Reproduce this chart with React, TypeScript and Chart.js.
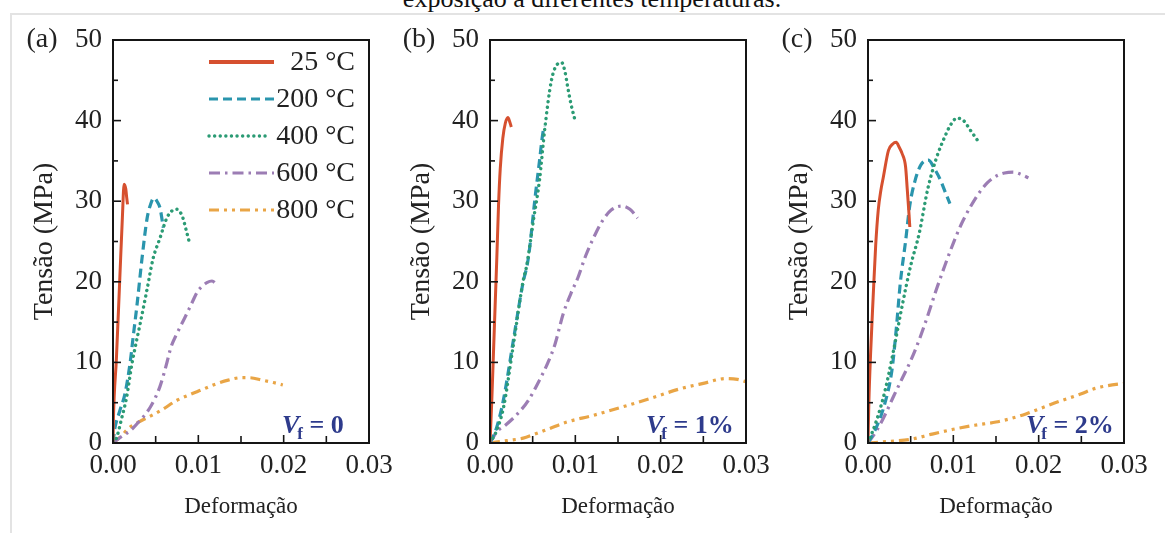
import React, { useEffect, useRef } from "react";
import { Chart, registerables } from "chart.js";

Chart.register(...registerables);

const FONT = "'Liberation Serif', 'Times New Roman', Times, serif";

// Series shared by all three panels
const SERIES_LABELS = ["25 °C", "200 °C", "400 °C", "600 °C", "800 °C"];
const SERIES_COLORS = ["#d6502f", "#2a95ad", "#2b9b74", "#9c7db4", "#e9a546"];

// Axis ticks
const X_TICKS = [0, 0.01, 0.02, 0.03];
const Y_TICKS = [0, 10, 20, 30, 40, 50];
const PANEL_TAGS = ["(a)", "(b)", "(c)"];
const FIBER_CONTENT = ["0", "1%", "2%"];

type Pt = [number, number];

// Panel (a): Vf = 0   [strain, stress MPa]
const a25: Pt[] = [[0, 0], [0.00005, 3], [0.0004, 10.5], [0.0008, 20.5], [0.0011, 28], [0.0013, 32.1], [0.0015, 31.5], [0.0016, 30.5], [0.0017, 29.6]];
const a200: Pt[] = [[0, 0], [0.0002, 1.7], [0.0008, 4], [0.0014, 6.1], [0.002, 9.9], [0.0024, 13.5], [0.0028, 17], [0.0034, 22.9], [0.004, 27.9], [0.0044, 29.6], [0.0048, 30.4], [0.0052, 29.9], [0.0055, 29.2], [0.0059, 26.7]];
const a400: Pt[] = [[0, 0], [0.0004, 0.6], [0.001, 3], [0.0016, 5.7], [0.0022, 9.7], [0.0032, 14.9], [0.004, 19.1], [0.0047, 22.9], [0.0055, 25.4], [0.0063, 27.9], [0.0069, 28.8], [0.0075, 29], [0.0079, 28.6], [0.0082, 27.9], [0.0086, 26.3], [0.009, 24.7]];
const a600: Pt[] = [[0, 0], [0.001, 0.8], [0.0021, 1.6], [0.003, 2.6], [0.0044, 4.5], [0.0055, 7], [0.0062, 9.5], [0.0068, 11.9], [0.0075, 13.6], [0.0084, 15.5], [0.0093, 17.5], [0.0099, 18.8], [0.0104, 19.4], [0.011, 19.9], [0.0116, 20.1], [0.0122, 19.6]];
const a800: Pt[] = [[0, 0], [0.001, 0.9], [0.0018, 1.8], [0.003, 2.6], [0.0045, 3.4], [0.0057, 4.1], [0.0075, 5.3], [0.009, 6], [0.0104, 6.6], [0.012, 7.3], [0.0135, 7.8], [0.015, 8.1], [0.016, 8.1], [0.0175, 7.8], [0.0188, 7.5], [0.0199, 7.2]];

// Panel (b): Vf = 1%
const b25: Pt[] = [[0, 0], [0.0002, 5], [0.0004, 11], [0.0006, 17], [0.0008, 23], [0.001, 29.5], [0.0012, 34], [0.0015, 37.8], [0.0018, 39.7], [0.0021, 40.4], [0.0023, 39.9], [0.0025, 39.2]];
const b200: Pt[] = [[0, 0], [0.0008, 2], [0.0016, 5.5], [0.0027, 12.5], [0.0038, 19.5], [0.0045, 23], [0.0053, 30.6], [0.0058, 35], [0.0062, 38.5], [0.0064, 39.3]];
const b400: Pt[] = [[0, 0], [0.0008, 1.6], [0.0016, 4.5], [0.0027, 11.9], [0.0039, 20.2], [0.0043, 22], [0.0051, 27.7], [0.0058, 32.6], [0.0064, 38.8], [0.0072, 45], [0.0079, 47], [0.0084, 47.2], [0.0088, 46], [0.0091, 44.2], [0.0095, 42], [0.0099, 40.3]];
const b600: Pt[] = [[0, 0], [0.0008, 1.4], [0.0018, 2.2], [0.0033, 3.7], [0.0045, 5.3], [0.0058, 7.8], [0.0068, 10], [0.0076, 12.2], [0.0086, 16.1], [0.0095, 18.6], [0.0103, 20.5], [0.0112, 23.2], [0.0122, 25.6], [0.0132, 27.6], [0.0142, 28.9], [0.0154, 29.4], [0.0164, 29], [0.0173, 27.9]];
const b800: Pt[] = [[0, 0], [0.002, 0.3], [0.0039, 0.6], [0.005, 1], [0.007, 1.8], [0.009, 2.6], [0.012, 3.4], [0.0156, 4.5], [0.019, 5.6], [0.0222, 6.7], [0.025, 7.4], [0.0277, 8], [0.029, 7.9], [0.03, 7.6]];

// Panel (c): Vf = 2%
const c25: Pt[] = [[0, 0], [0.0001, 5], [0.0003, 11], [0.0006, 18], [0.0009, 24.5], [0.0012, 28.9], [0.0015, 31.3], [0.0018, 33], [0.0024, 36.3], [0.0029, 37.1], [0.0033, 37.3], [0.0037, 36.6], [0.004, 35.9], [0.0044, 34.3], [0.0046, 31.5], [0.0048, 28.5], [0.0049, 26.8]];
const c200: Pt[] = [[0, 0], [0.001, 2], [0.002, 5], [0.0028, 9], [0.0033, 14], [0.0038, 20], [0.0044, 25], [0.0049, 29.5], [0.0055, 32.5], [0.0062, 34.5], [0.0071, 35.1], [0.0078, 34], [0.0085, 32.6], [0.0091, 31], [0.0096, 29.7]];
const c400: Pt[] = [[0, 0], [0.001, 2.8], [0.002, 6.5], [0.003, 11.5], [0.004, 17], [0.005, 22], [0.006, 26], [0.007, 31.5], [0.008, 35.3], [0.009, 38], [0.0097, 39.5], [0.0104, 40.3], [0.0112, 40], [0.012, 38.8], [0.0128, 37.6]];
const c600: Pt[] = [[0, 0], [0.001, 1.5], [0.002, 3.5], [0.003, 5.8], [0.004, 8], [0.005, 10.2], [0.006, 12.8], [0.007, 15.8], [0.008, 19], [0.009, 22], [0.01, 24.8], [0.011, 27.3], [0.012, 29.3], [0.013, 31], [0.014, 32.3], [0.015, 33.1], [0.016, 33.5], [0.017, 33.6], [0.018, 33.3], [0.0188, 32.9]];
const c800: Pt[] = [[0, 0], [0.0025, 0.2], [0.005, 0.45], [0.0075, 1.1], [0.01, 1.7], [0.0125, 2.2], [0.015, 2.6], [0.0166, 3.0], [0.0185, 3.6], [0.02, 4.2], [0.0225, 5.2], [0.025, 6.1], [0.0264, 6.7], [0.028, 7.1], [0.03, 7.4]];

const PANEL_SERIES: Pt[][][] = [
  [a25, a200, a400, a600, a800],
  [b25, b200, b400, b600, b800],
  [c25, c200, c400, c600, c800],
];

// Page geometry
const W = 1165;
const H = 533;
const PLOT_LEFT = [113, 490, 868];
const PLOT_RIGHT = [369, 746, 1124];
const PLOT_TOP = 40;
const PLOT_BOTTOM = 443;
const VF_X = [282, 646, 1026];

const DASHES: number[][] = [[], [9, 5], [0.1, 5.5], [11, 5, 2.5, 5], [10, 5, 3, 5, 3, 5]];
const WIDTHS = [3, 3.2, 3.4, 3.2, 3.2];
const CAPS = ["butt", "butt", "round", "butt", "butt"];
const ORDER = [1, 2, 0, 3, 4];

const TICK_FONT = 27;
const YTITLE_FONT = 28;
const XTITLE_FONT = 23;

function line(ctx: CanvasRenderingContext2D, x1: number, y1: number, x2: number, y2: number) {
  ctx.beginPath();
  ctx.moveTo(x1, y1);
  ctx.lineTo(x2, y2);
  ctx.stroke();
}

function decorations(idx: number) {
  return {
    id: "decorations" + idx,
    afterDatasetsDraw(chart: any) {
      const { ctx, chartArea } = chart;
      const { left, right, top, bottom } = chartArea;
      const xs = chart.scales.x;
      const ys = chart.scales.y;
      ctx.save();
      ctx.setLineDash([]);
      ctx.strokeStyle = "#151515";

      // inward tick marks
      ctx.lineWidth = 1.6;
      for (let v = 5; v < 50; v += 5) {
        const py = ys.getPixelForValue(v);
        line(ctx, left, py, left + (v % 10 === 0 ? 8 : 5), py);
      }
      for (let k = 1; k < 6; k++) {
        const px = xs.getPixelForValue(k * 0.005);
        line(ctx, px, bottom, px, bottom - (k % 2 === 0 ? 8 : 7));
      }

      // frame
      ctx.lineWidth = 2;
      ctx.strokeRect(left, top, right - left, bottom - top);

      // panel tag
      ctx.fillStyle = "#222";
      ctx.font = `28px ${FONT}`;
      ctx.textAlign = "center";
      ctx.textBaseline = "middle";
      ctx.fillText(PANEL_TAGS[idx], left - 71, top);

      // fibre content label
      const vx = VF_X[idx];
      const vy = bottom - 10;
      ctx.fillStyle = "#2e3b8c";
      ctx.textAlign = "left";
      ctx.textBaseline = "alphabetic";
      ctx.font = `italic bold 26px ${FONT}`;
      ctx.fillText("V", vx, vy);
      let cx = vx + ctx.measureText("V").width - 2;
      ctx.font = `bold 17px ${FONT}`;
      ctx.fillText("f", cx, vy + 6);
      cx += ctx.measureText("f").width;
      ctx.font = `bold 26px ${FONT}`;
      ctx.fillText(" = " + FIBER_CONTENT[idx], cx, vy);

      // legend (first panel only)
      if (idx === 0) {
        for (let i = 0; i < SERIES_LABELS.length; i++) {
          const ly = 62 + i * 37;
          ctx.strokeStyle = SERIES_COLORS[i];
          ctx.lineWidth = i === 0 ? 4 : WIDTHS[i];
          ctx.lineCap = CAPS[i] as CanvasLineCap;
          ctx.setLineDash(DASHES[i]);
          line(ctx, 209, ly, i === 2 ? 268 : 274, ly);
          ctx.setLineDash([]);
          ctx.lineCap = "butt";
          ctx.fillStyle = "#222";
          ctx.font = `28px ${FONT}`;
          ctx.textAlign = "right";
          ctx.textBaseline = "middle";
          ctx.fillText(SERIES_LABELS[i], 355, ly + 1);
        }
      }
      ctx.restore();
    },
  };
}

function buildConfig(idx: number): any {
  const L = PLOT_LEFT[idx];
  const R = PLOT_RIGHT[idx];
  const yTitleLH = YTITLE_FONT * 1.2;
  const yWidth = 68 + yTitleLH / 2;
  const xTitleLH = XTITLE_FONT * 1.2;
  const xBottom = 507 + xTitleLH / 2;
  const xHeight = xBottom - PLOT_BOTTOM;

  return {
    type: "scatter",
    data: {
      datasets: PANEL_SERIES[idx].map((pts, i) => ({
        label: SERIES_LABELS[i],
        data: pts.map(([x, y]) => ({ x, y })),
        showLine: true,
        borderColor: SERIES_COLORS[i],
        backgroundColor: SERIES_COLORS[i],
        borderWidth: WIDTHS[i],
        borderDash: DASHES[i],
        borderCapStyle: CAPS[i],
        pointRadius: 0,
        pointHoverRadius: 0,
        cubicInterpolationMode: "monotone",
        order: ORDER[i],
      })),
    },
    options: {
      responsive: false,
      animation: false,
      events: [],
      layout: {
        padding: {
          left: L - yWidth,
          right: W - R,
          top: PLOT_TOP,
          bottom: H - xBottom,
        },
      },
      plugins: { legend: { display: false }, tooltip: { enabled: false } },
      scales: {
        x: {
          type: "linear",
          min: 0,
          max: 0.03,
          afterBuildTicks: (s: any) => {
            s.ticks = X_TICKS.map((value) => ({ value }));
          },
          afterFit: (s: any) => {
            s.height = xHeight;
          },
          grid: { display: false, drawTicks: false },
          border: { display: false },
          ticks: {
            autoSkip: false,
            maxRotation: 0,
            padding: 7,
            color: "#222",
            font: { family: FONT, size: TICK_FONT },
            callback: (v: number) => Number(v).toFixed(2),
          },
          title: {
            display: true,
            text: "Deformação",
            color: "#222",
            padding: 0,
            font: { family: FONT, size: XTITLE_FONT },
          },
        },
        y: {
          type: "linear",
          min: 0,
          max: 50,
          afterBuildTicks: (s: any) => {
            s.ticks = Y_TICKS.map((value) => ({ value }));
          },
          afterFit: (s: any) => {
            s.width = yWidth;
          },
          grid: { display: false, drawTicks: false },
          border: { display: false },
          ticks: {
            padding: 11,
            color: "#222",
            font: { family: FONT, size: TICK_FONT },
            callback: (v: number) => String(v),
          },
          title: {
            display: true,
            text: "Tensão (MPa)",
            color: "#222",
            padding: 0,
            font: { family: FONT, size: YTITLE_FONT },
          },
        },
      },
    },
    plugins: [decorations(idx)],
  };
}

function Panel({ idx }: { idx: number }) {
  const ref = useRef<HTMLCanvasElement | null>(null);
  useEffect(() => {
    if (!ref.current) return;
    const chart = new Chart(ref.current, buildConfig(idx));
    return () => chart.destroy();
  }, [idx]);
  return (
    <canvas
      ref={ref}
      width={W}
      height={H}
      style={{ position: "absolute", left: 0, top: 0, width: W, height: H, pointerEvents: "none" }}
    />
  );
}

export default function App() {
  return (
    <div
      style={{
        position: "fixed",
        left: 0,
        top: 0,
        width: W,
        height: H,
        overflow: "hidden",
        background: "#ffffff",
      }}
    >
      <div
        style={{
          position: "absolute",
          left: 0,
          top: -14,
          width: 1184,
          textAlign: "center",
          fontFamily: FONT,
          fontSize: 26,
          lineHeight: "26px",
          color: "#111",
          whiteSpace: "nowrap",
        }}
      >
        exposição a diferentes temperaturas.
      </div>
      <div
        style={{
          position: "absolute",
          left: 10,
          top: 13,
          width: 1200,
          height: 600,
          borderTop: "2px solid #e3e3e3",
          borderLeft: "2px solid #e3e3e3",
        }}
      />
      {[0, 1, 2].map((i) => (
        <Panel key={i} idx={i} />
      ))}
    </div>
  );
}
